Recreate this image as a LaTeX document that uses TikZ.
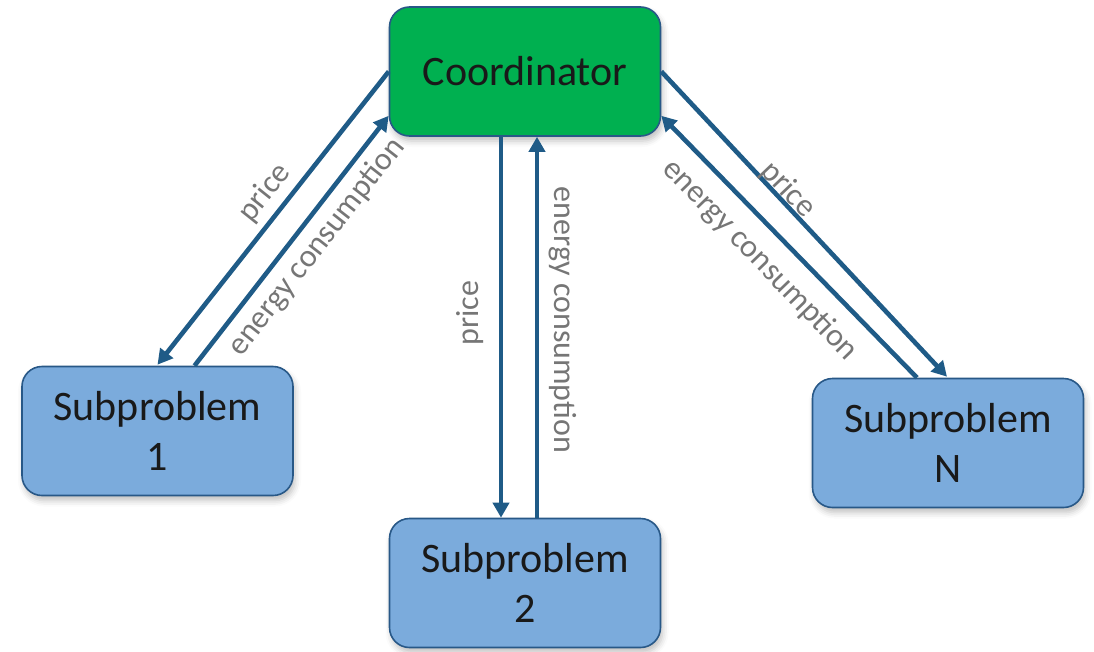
\documentclass[tikz,border=0pt]{standalone}
\usepackage{fontspec}
\setmainfont{Carlito}
\usetikzlibrary{arrows.meta,calc,shadows.blur}
\definecolor{arrowblue}{RGB}{31,91,135}
\definecolor{borderblue}{RGB}{40,88,135}
\definecolor{coordgreen}{RGB}{0,176,80}
\definecolor{subblue}{RGB}{123,171,220}
\definecolor{labelgray}{RGB}{118,118,118}
\tikzset{
  box/.style={draw=borderblue, line width=1.6pt, rounded corners=20pt,
    minimum width=271pt, minimum height=129pt, align=center,
    font=\fontsize{42}{50}\selectfont, text=black!90,
    blur shadow={shadow xshift=2pt, shadow yshift=-5pt, shadow blur radius=6pt, shadow opacity=25}},
  coordbox/.style={box, fill=coordgreen},
  subbox/.style={box, fill=subblue},
  flow/.style={draw=arrowblue, line width=4.6pt, -{Triangle[length=15pt,width=16pt]}},
  lbl/.style={text=labelgray, font=\fontsize{32}{38}\selectfont, inner sep=0pt}
}
\begin{document}
\begin{tikzpicture}[x=1pt,y=-1pt]
\useasboundingbox (0,0) rectangle (1094,651);
\node[coordbox] (coord) at (525,71.5) {Coordinator};
\node[subbox] (sub1) at (157.5,431) {Subproblem\\1};
\node[subbox] (sub2) at (525,583) {Subproblem\\2};
\node[subbox] (subN) at (948,443) {Subproblem\\N};

% left pair
\coordinate (p1s) at (coord.west);
\coordinate (p1e) at ($(sub1.north)+(0,-1)$);
\coordinate (e1s) at ($(sub1.north)+(37,0)$);
\coordinate (e1e) at ($(coord.south west)+(0,-21)$);
\draw[flow] (p1s) -- (p1e);
\draw[flow] (e1s) -- (e1e);

% middle pair
\coordinate (p2s) at ($(coord.south)+(-24,0)$);
\coordinate (p2e) at ($(sub2.north)+(-24,0)$);
\coordinate (e2s) at ($(sub2.north)+(12,0)$);
\coordinate (e2e) at ($(coord.south)+(12,0)$);
\draw[flow] (p2s) -- (p2e);
\draw[flow] (e2s) -- (e2e);

% right pair
\coordinate (pNs) at (coord.east);
\coordinate (pNe) at ($(subN.north)+(-1,-1)$);
\coordinate (eNs) at ($(subN.north)+(-31,0)$);
\coordinate (eNe) at ($(coord.south east)+(0,-21)$);
\draw[flow] (pNs) -- (pNe);
\draw[flow] (eNs) -- (eNe);

% labels
\node[lbl, rotate=51.4] (lp1) at (265,193) {price};
\node[lbl, rotate=52] (le1) at (317,247) {energy consumption};
\node[lbl, rotate=90] (lp2) at (470,313) {price};
\node[lbl, rotate=-90] (le2) at (563,320) {energy consumption};
\node[lbl, rotate=-46.4] (lpN) at (788,190) {price};
\node[lbl, rotate=-46] (leN) at (760,260) {energy consumption};
\end{tikzpicture}
\end{document}
